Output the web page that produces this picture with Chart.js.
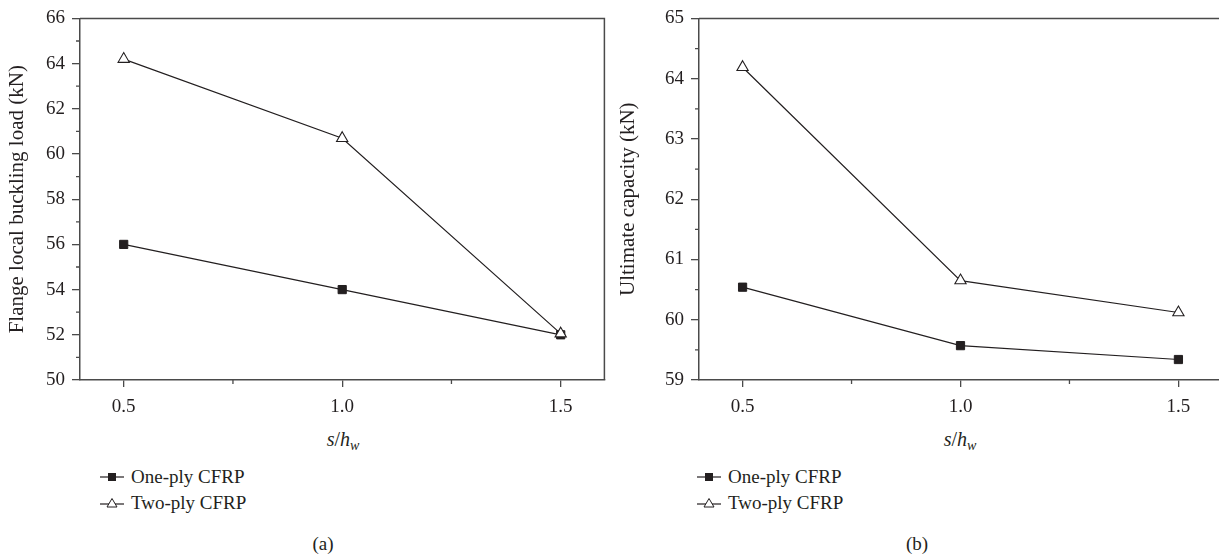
<!DOCTYPE html>
<html>
<head>
<meta charset="utf-8">
<script src="https://cdn.jsdelivr.net/npm/chart.js@4.4.1/dist/chart.umd.min.js"></script>
<style>
html,body{margin:0;padding:0;background:#fff;overflow:hidden;width:1219px;height:558px;}
#wrap{position:relative;width:1219px;height:558px;overflow:hidden;font-family:"Liberation Serif","DejaVu Serif",serif;color:#231f20;}
canvas{position:absolute;top:0;}
.t{position:absolute;white-space:nowrap;line-height:1;}
.xt{font-size:20px;transform:translate(-50%,-50%);}
.cap{font-size:19px;transform:translate(-50%,-50%);}
.leg{position:absolute;font-size:19px;display:flex;align-items:center;white-space:nowrap;transform:translateY(-50%);}
.leg svg{margin-right:7px;}
sub{font-size:70%;vertical-align:-0.3em;}
</style>
</head>
<body>
<div id="wrap">
  <canvas id="ca" width="612" height="425" style="left:0px"></canvas>
  <canvas id="cb" width="625" height="425" style="left:615px"></canvas>
  <div class="t xt" style="left:343px;top:441px"><i>s</i>/<i>h</i><sub><i>w</i></sub></div>
  <div class="t xt" style="left:960px;top:441px"><i>s</i>/<i>h</i><sub><i>w</i></sub></div>
  <div class="leg" style="left:100px;top:477px"><svg width="24" height="14"><line x1="0" y1="7" x2="24" y2="7" stroke="#231f20" stroke-width="1.2"/><rect x="8" y="3" width="8" height="8" fill="#231f20"/></svg><span>One-ply CFRP</span></div>
  <div class="leg" style="left:100px;top:503px"><svg width="24" height="14"><line x1="0" y1="8" x2="24" y2="8" stroke="#231f20" stroke-width="1.2"/><polygon points="12,2.5 17,11 7,11" fill="#fff" stroke="#231f20" stroke-width="1"/></svg><span>Two-ply CFRP</span></div>
  <div class="leg" style="left:697px;top:477px"><svg width="24" height="14"><line x1="0" y1="7" x2="24" y2="7" stroke="#231f20" stroke-width="1.2"/><rect x="8" y="3" width="8" height="8" fill="#231f20"/></svg><span>One-ply CFRP</span></div>
  <div class="leg" style="left:697px;top:503px"><svg width="24" height="14"><line x1="0" y1="8" x2="24" y2="8" stroke="#231f20" stroke-width="1.2"/><polygon points="12,2.5 17,11 7,11" fill="#fff" stroke="#231f20" stroke-width="1"/></svg><span>Two-ply CFRP</span></div>
  <div class="t cap" style="left:323px;top:543px">(a)</div>
  <div class="t cap" style="left:917px;top:543px">(b)</div>
</div>
<script>
// ---- data ----
const sValues = [0.5, 1.0, 1.5];
const onePlyBuckling = [56.0, 54.0, 52.0];
const twoPlyBuckling = [64.2, 60.7, 52.05];
const onePlyUltimate = [60.54, 59.57, 59.34];
const twoPlyUltimate = [64.19, 60.65, 60.12];

const xTicks = [0.5, 1.0, 1.5];
const xTickLabels = ['0.5', '1.0', '1.5'];
const xMinor = [0.75, 1.25];
const yTicksA = [50, 52, 54, 56, 58, 60, 62, 64, 66];
const yMinorA = [51, 53, 55, 57, 59, 61, 63, 65];
const yTicksB = [59, 60, 61, 62, 63, 64, 65];
const yMinorB = [59.5, 60.5, 61.5, 62.5, 63.5, 64.5];

const INK = '#231f20';
const AXIS = '#4a4a4a';
const FONT = "'Liberation Serif', 'DejaVu Serif', serif";

const frameAndMinor = {
  id: 'frameAndMinor',
  afterDraw(chart) {
    const ctx = chart.ctx, a = chart.chartArea, o = chart.options.plugins.frameAndMinor;
    ctx.save();
    ctx.strokeStyle = AXIS;
    ctx.lineWidth = 1.5;
    ctx.beginPath();
    ctx.moveTo(a.left, a.top); ctx.lineTo(a.right + (o.drawRight ? 0 : 20), a.top);
    if (o.drawRight) ctx.lineTo(a.right, a.bottom);
    ctx.stroke();
    const xs = chart.scales.x, ys = chart.scales.y;
    ctx.lineWidth = 1.3;
    ctx.beginPath();
    o.xMinor.forEach(v => { const px = xs.getPixelForValue(v); ctx.moveTo(px, a.bottom); ctx.lineTo(px, a.bottom + 4); });
    o.yMinor.forEach(v => { const py = ys.getPixelForValue(v); ctx.moveTo(a.left, py); ctx.lineTo(a.left - 4, py); });
    ctx.stroke();
    ctx.restore();
  }
};

function makeChart(id, one, two, yMin, yMax, yTicks, yMinor, yTitle, yWidth, titlePad, padRight, drawRight) {
  return new Chart(document.getElementById(id), {
    type: 'line',
    data: {
      datasets: [
        {
          label: 'One-ply CFRP',
          data: sValues.map((s, i) => ({ x: s, y: one[i] })),
          borderColor: INK, borderWidth: 1.2,
          pointStyle: 'rect', pointRadius: 5.8, pointBackgroundColor: INK, pointBorderColor: INK, pointBorderWidth: 1,
          order: 2, tension: 0
        },
        {
          label: 'Two-ply CFRP',
          data: sValues.map((s, i) => ({ x: s, y: two[i] })),
          borderColor: INK, borderWidth: 1.2,
          pointStyle: 'triangle', pointRadius: 6.5, pointBackgroundColor: '#fff', pointBorderColor: INK, pointBorderWidth: 1.1,
          order: 1, tension: 0
        }
      ]
    },
    options: {
      responsive: false,
      animation: false,
      devicePixelRatio: 1,
      layout: { padding: { top: 13, right: padRight, left: 0, bottom: 0 } },
      plugins: {
        legend: { display: false },
        tooltip: { enabled: false },
        frameAndMinor: { xMinor: xMinor, yMinor: yMinor, drawRight: drawRight }
      },
      scales: {
        x: {
          type: 'linear', min: 0.4, max: 1.6,
          afterBuildTicks: s => { s.ticks = xTicks.map(v => ({ value: v })); },
          afterFit: s => { s.height = 45; },
          ticks: {
            callback: v => { const i = xTicks.indexOf(v); return i >= 0 ? xTickLabels[i] : ''; },
            font: { family: FONT, size: 19 }, color: INK, padding: 9, maxRotation: 0, autoSkip: false
          },
          grid: { drawOnChartArea: false, tickLength: 7, color: AXIS, lineWidth: 1.3 },
          border: { color: AXIS, width: 1.5 }
        },
        y: {
          min: yMin, max: yMax,
          afterBuildTicks: s => { s.ticks = yTicks.map(v => ({ value: v })); },
          afterFit: s => { s.width = yWidth; },
          ticks: { font: { family: FONT, size: 19 }, color: INK, padding: 7, callback: v => String(v) },
          grid: { drawOnChartArea: false, tickLength: 8, color: AXIS, lineWidth: 1.3 },
          border: { color: AXIS, width: 1.5 },
          title: { display: true, text: yTitle, font: { family: FONT, size: 21 }, color: INK, padding: { top: titlePad, bottom: 0 } }
        }
      }
    },
    plugins: [frameAndMinor]
  });
}

makeChart('ca', onePlyBuckling, twoPlyBuckling, 50, 66, yTicksA, yMinorA, 'Flange local buckling load (kN)', 80, 5, 5, true);
makeChart('cb', onePlyUltimate, twoPlyUltimate, 59, 65, yTicksB, yMinorB, 'Ultimate capacity (kN)', 84, 1, 18, false);
</script>
</body>
</html>
